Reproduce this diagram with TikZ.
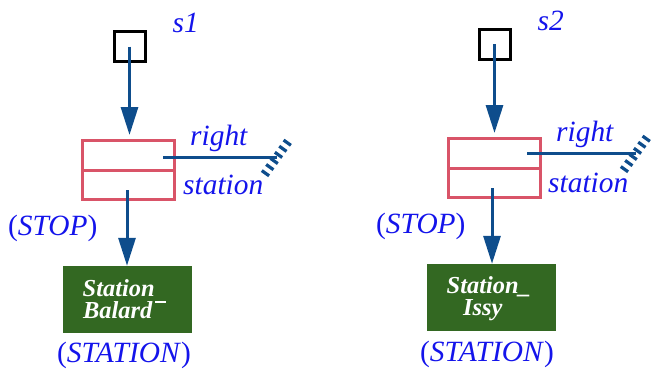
\documentclass[tikz,border=0pt]{standalone}
\usepackage{fontspec}
\setmainfont{Liberation Serif}
\usetikzlibrary{arrows.meta}
\definecolor{lblblue}{RGB}{20,20,235}
\definecolor{connblue}{RGB}{14,77,140}
\definecolor{stopred}{RGB}{217,84,104}
\definecolor{stgreen}{RGB}{51,104,34}
\begin{document}
\begin{tikzpicture}[x=1bp,y=-1bp,
 lbl/.style={text=lblblue, font=\fontsize{29.5}{31}\selectfont, inner sep=0pt, anchor=base west},
 gtxt/.style={text=white, font=\fontsize{24.5}{26}\selectfont\bfseries\itshape, inner sep=0pt, anchor=base west},
 objsq/.style={draw=black, line width=3bp, minimum width=31bp, minimum height=30bp, inner sep=0pt},
 stopbox/.style={draw=stopred, line width=3bp, minimum width=92bp, minimum height=59bp, inner sep=0pt},
 stationbox/.style={fill=stgreen, minimum width=129bp, minimum height=67bp, inner sep=0pt},
 conn/.style={draw=connblue, line width=3bp},
 arr/.style={conn, -{Triangle[length=28bp,width=17bp]}},
 hatch/.style={draw=connblue, line width=9bp, dash pattern=on 3.2bp off 4.3bp}
]
\useasboundingbox (0,0) rectangle (652,369);
% ---------- left object s1 ----------
\node[objsq] (sq1) at (129.5,46.5) {};
\node[lbl] (s1) at (172.5,32) {\textit{s1}};
\node[stopbox] (stop1) at (128.5,170) {};
\draw[stopred, line width=3bp] (stop1.west) -- (stop1.east);
\node[lbl] (right1) at (190,145) {\textit{right}};
\node[lbl] (station1) at (183,194) {\textit{station}};
\node[lbl] (stopl1) at (8,235) {(\textit{STOP})};
\node[stationbox] (g1) at (127.5,299.5) {};
\node[gtxt] (g1a) at (82.5,296) {Station};
\node[gtxt] (g1b) at (83,318) {Balard\hspace{0.12em}\smash{\rule[0.62em]{0.45em}{1.5bp}}};
\node[lbl] (statl1) at (57,362) {(\textit{STATION})};
\coordinate (r1) at (163,157);
\coordinate (h1) at (277,157);
\coordinate (d1) at (127,190);
\draw[arr, shorten >=4bp] (sq1.center) -- (sq1.center |- stop1.north);
\draw[conn] (r1) -- (h1);
\draw[hatch] ([shift={(-12.5,17.5)}]h1) -- ([shift={(12.5,-17.5)}]h1);
\draw[arr] (d1) -- (d1 |- g1.north);
% ---------- right object s2 ----------
\node[objsq] (sq2) at (494.5,44) {};
\node[lbl] (s2) at (537.5,30) {\textit{s2}};
\node[stopbox] (stop2) at (494.5,168) {};
\draw[stopred, line width=3bp] (stop2.west) -- (stop2.east);
\node[lbl] (right2) at (556,141) {\textit{right}};
\node[lbl] (station2) at (548,192.5) {\textit{station}};
\node[lbl] (stopl2) at (376,233) {(\textit{STOP})};
\node[stationbox] (g2) at (491.5,297.5) {};
\node[gtxt] (g2a) at (446.5,293) {Station\_};
\node[gtxt] (g2b) at (463,315) {Issy};
\node[lbl] (statl2) at (420,361) {(\textit{STATION})};
\coordinate (r2) at (527,153);
\coordinate (h2) at (636,153);
\coordinate (d2) at (492,188);
\draw[arr, shorten >=4bp] (sq2.center) -- (sq2.center |- stop2.north);
\draw[conn] (r2) -- (h2);
\draw[hatch] ([shift={(-12.5,17.5)}]h2) -- ([shift={(12.5,-17.5)}]h2);
\draw[arr] (d2) -- (d2 |- g2.north);
\end{tikzpicture}
\end{document}
